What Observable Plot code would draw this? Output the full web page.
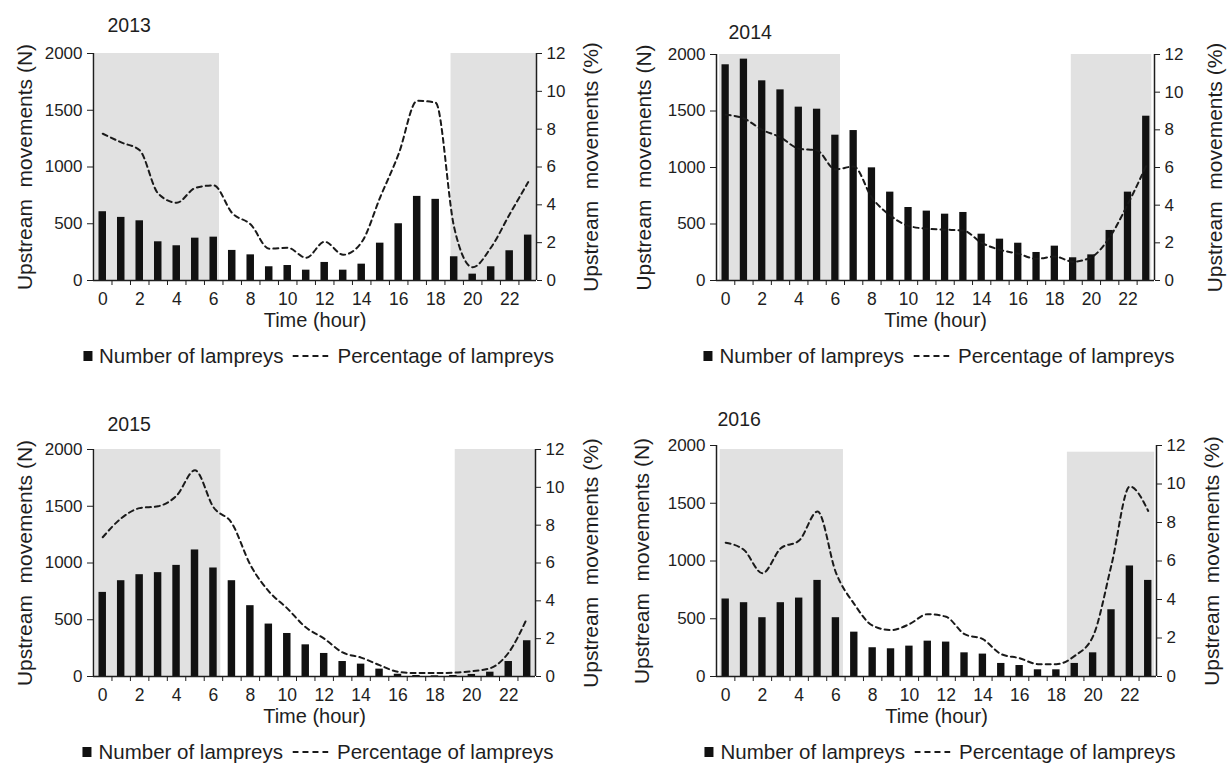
<!DOCTYPE html>
<html>
<head>
<meta charset="utf-8">
<script src="https://cdn.jsdelivr.net/npm/d3@7"></script>
<script src="https://cdn.jsdelivr.net/npm/@observablehq/plot@0.6"></script>
<style>
  html, body { margin: 0; padding: 0; background: #fff; }
  #root { position: relative; width: 1227px; height: 767px; overflow: hidden; background: #fff;
          font-family: "Liberation Sans", Arial, sans-serif; color: #1e1e1e; }
  .panel { position: absolute; }
  .legend { position: absolute; display: flex; align-items: center; font-size: 20.5px; white-space: nowrap;
            transform: translate(-50%, -50%); color: #1e1e1e; }
  .legend .sq { display: inline-block; width: 9px; height: 10px; background: #111; margin-right: 7px; }
  .legend svg { margin: 0 9px; }
</style>
</head>
<body>
<div id="root"></div>
<script>
// ---------------- data ----------------
const years = ["2013", "2014", "2015", "2016"];
const hours = [0,1,2,3,4,5,6,7,8,9,10,11,12,13,14,15,16,17,18,19,20,21,22,23];
const hourTickLabels = [0,2,4,6,8,10,12,14,16,18,20,22];
const countTicks = [0,500,1000,1500,2000];
const pctTicks = [0,2,4,6,8,10,12];

const counts2013 = [606,556,526,341,306,373,382,265,226,121,132,91,159,91,144,329,500,741,715,209,56,121,262,400];
const pct2013    = [7.76,7.3,6.88,4.59,4.11,4.89,5.03,3.56,2.96,1.68,1.73,1.2,2.05,1.36,2.03,4.4,6.7,9.5,9.4,2.8,0.7,1.76,3.5,5.2];

const counts2014 = [1909,1959,1767,1687,1534,1516,1286,1327,997,782,646,614,587,602,410,366,330,248,304,201,227,443,782,1454];
const pct2014    = [8.8,8.6,8.0,7.6,7.0,6.9,5.9,6.05,4.4,3.45,2.9,2.75,2.7,2.65,2.0,1.63,1.42,1.15,1.27,1.0,1.24,2.3,4.07,6.1];

const counts2015 = [741,844,897,915,979,1115,956,844,624,462,379,279,203,132,109,65,20,9,6,9,18,38,132,315];
const pct2015    = [7.36,8.36,8.9,9.0,9.56,10.9,8.95,8.1,5.9,4.5,3.6,2.6,2.0,1.27,1.0,0.6,0.25,0.18,0.18,0.2,0.28,0.44,1.27,3.1];

const counts2016 = [671,639,509,639,679,832,509,384,249,240,263,306,298,205,194,113,95,58,58,113,205,578,957,832];
const pct2016    = [6.95,6.57,5.36,6.66,7.06,8.57,5.4,3.76,2.64,2.41,2.72,3.24,3.1,2.2,1.94,1.16,0.95,0.64,0.64,1.07,2.1,5.8,9.87,8.6];

// night (shaded) periods, in hours, with the top of the shading in N units
const night2013 = [{start: -0.42, end: 6.31, top: 2000}, {start: 18.83, end: 23.45, top: 2000}];
const night2014 = [{start: -0.33, end: 6.28, top: 2000}, {start: 18.9,  end: 23.3,  top: 2000}];
const night2015 = [{start: -0.40, end: 6.40, top: 2000}, {start: 19.1,  end: 23.45, top: 2000}];
const night2016 = [{start: -0.30, end: 6.41, top: 1965}, {start: 18.6,  end: 23.35, top: 1942}];

const countsAll = [counts2013, counts2014, counts2015, counts2016];
const pctAll = [pct2013, pct2014, pct2015, pct2016];
const nightAll = [night2013, night2014, night2015, night2016];

const labelN = "Upstream  movements (N)";
const labelPct = "Upstream  movements (%)";
const labelX = "Time (hour)";
const legendBars = "Number of lampreys";
const legendLine = "Percentage of lampreys";

// ---------------- layout ----------------
const layouts = [
  {left: 0,   top: 0,   width: 613, height: 380, mL: 93, mR: 77, mT: 53, mB: 100, titleDx: 14, titleDy: -35, ylDx: -68, yrDx: 55},
  {left: 622, top: 0,   width: 605, height: 380, mL: 94, mR: 73, mT: 54, mB: 100, titleDx: 12, titleDy: -29, ylDx: -72, yrDx: 61},
  {left: 0,   top: 395, width: 613, height: 380, mL: 93, mR: 78, mT: 54, mB: 99,  titleDx: 14, titleDy: -32, ylDx: -68, yrDx: 56},
  {left: 622, top: 395, width: 605, height: 380, mL: 94, mR: 71, mT: 50, mB: 99,  titleDx: 1,  titleDy: -33, ylDx: -74, yrDx: 56}
];

const K = 2000 / 12; // maps % onto the N axis
const xDomain = [-0.5, 23.45];
const boundaries = hours.slice(0, -1).map(h => h + 0.5);
const FONT = "Liberation Sans, Arial, sans-serif";
const INK = "#1e1e1e";

const root = document.getElementById("root");

years.forEach((year, i) => {
  const L = layouts[i];
  const data = hours.map((h, j) => ({hour: h, count: countsAll[i][j], pct: pctAll[i][j]}));

  const chart = Plot.plot({
    width: L.width, height: L.height,
    marginLeft: L.mL, marginRight: L.mR, marginTop: L.mT, marginBottom: L.mB,
    style: {fontFamily: FONT, fontSize: "17px", color: INK, background: "transparent", overflow: "visible"},
    x: {domain: xDomain},
    y: {domain: [0, 2000]},
    marks: [
      Plot.rect(nightAll[i], {x1: "start", x2: "end", y1: 0, y2: "top", fill: "#e1e1e1"}),
      Plot.rectY(data, {x1: d => d.hour - 0.5, x2: d => d.hour + 0.5, y1: 0, y2: "count",
                        insetLeft: 5.5, insetRight: 5.5, fill: "#111"}),
      Plot.line(data, {x: "hour", y: d => d.pct * K, stroke: "#1a1a1a", strokeWidth: 2,
                       strokeDasharray: "5,4", curve: "monotone-x"}),
      Plot.ruleY([0], {stroke: INK, strokeWidth: 1.5}),
      Plot.ruleX([xDomain[0]], {y1: 0, y2: 2000, stroke: INK, strokeWidth: 1.5}),
      Plot.ruleX([xDomain[1]], {y1: 0, y2: 2000, stroke: INK, strokeWidth: 1.5}),
      Plot.axisY({ticks: countTicks, tickSize: 6, tickPadding: 5, tickFormat: d => String(d),
                  label: null, fontSize: 17, stroke: INK, fill: INK}),
      Plot.axisY({anchor: "right", ticks: pctTicks.map(v => v * K), tickSize: 5, tickPadding: 5,
                  tickFormat: d => String(Math.round(d / K)), label: null, fontSize: 17, stroke: INK, fill: INK}),
      Plot.axisX({ticks: boundaries, tickSize: 5, tickFormat: () => "", label: null, stroke: INK}),
      Plot.axisX({ticks: hourTickLabels, tickSize: 0, tickPadding: 12, tickFormat: d => String(d),
                  label: null, fontSize: 17.5, fill: INK}),
      Plot.text([labelN], {text: d => d, frameAnchor: "left", textAnchor: "middle", dx: L.ylDx, rotate: -90,
                           fontSize: 21, fill: INK}),
      Plot.text([labelPct], {text: d => d, frameAnchor: "right", textAnchor: "middle", dx: L.yrDx, rotate: -90,
                             fontSize: 21, fill: INK}),
      Plot.text([labelX], {text: d => d, frameAnchor: "bottom", dy: 46, fontSize: 20, fill: INK}),
      Plot.text([year], {text: d => d, frameAnchor: "top-left", dx: L.titleDx, dy: L.titleDy,
                         textAnchor: "start", fontSize: 19.5, fill: INK})
    ]
  });

  const panel = document.createElement("div");
  panel.className = "panel";
  panel.style.left = L.left + "px";
  panel.style.top = L.top + "px";
  panel.style.width = L.width + "px";
  panel.style.height = L.height + "px";
  panel.appendChild(chart);

  // legend
  const frameCenter = L.mL + (L.width - L.mL - L.mR) / 2;
  const legend = document.createElement("div");
  legend.className = "legend";
  legend.style.left = (frameCenter + 4) + "px";
  legend.style.top = (L.height - L.mB + 76) + "px";
  legend.innerHTML =
    `<span class="sq"></span><span>${legendBars}</span>` +
    `<svg width="36" height="6"><line x1="0" x2="36" y1="3" y2="3" stroke="#1a1a1a" stroke-width="2" stroke-dasharray="6,4"/></svg>` +
    `<span>${legendLine}</span>`;
  panel.appendChild(legend);

  root.appendChild(panel);
});
</script>
</body>
</html>
